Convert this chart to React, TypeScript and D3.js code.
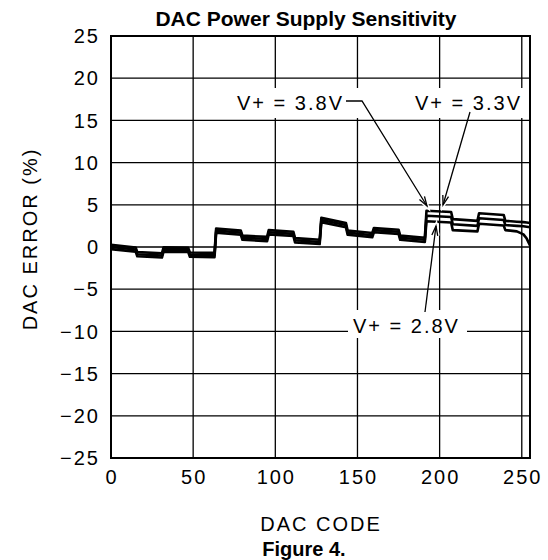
import React from 'react'
import * as d3 from 'd3'

// DAC code sample points (steps every 16 codes)
const codes = [0, 15, 16, 31, 32, 47, 48, 63, 64, 79, 80, 95, 96, 111, 112, 127, 128, 143, 144, 159, 160, 175, 176, 191, 192, 207, 208, 223, 224, 239, 240, 247, 251, 253, 255]

const err38 = [0.25, -0.05, -0.6, -0.75, -0.05, -0.1, -0.65, -0.7, 2.2, 1.95, 1.35, 1.2, 2.0, 1.8, 1.05, 0.85, 3.45, 2.85, 1.95, 1.65, 2.25, 2.05, 1.35, 1.1, 4.3, 4.15, 3.3, 3.1, 4.0, 3.8, 3.1, 3.0, 2.95, 2.9, 2.85]
const err33 = [0.0, -0.3, -0.85, -1.0, -0.3, -0.35, -0.9, -0.95, 1.95, 1.7, 1.1, 0.95, 1.75, 1.55, 0.8, 0.6, 3.2, 2.6, 1.7, 1.4, 2.0, 1.8, 1.1, 0.85, 3.7, 3.55, 2.7, 2.5, 3.4, 3.2, 2.6, 2.5, 2.45, 2.4, 2.35]
const err28 = [-0.25, -0.55, -1.1, -1.25, -0.55, -0.6, -1.15, -1.2, 1.7, 1.45, 0.85, 0.7, 1.5, 1.3, 0.55, 0.35, 2.95, 2.35, 1.45, 1.15, 1.75, 1.55, 0.85, 0.6, 3.05, 2.9, 2.0, 1.85, 2.75, 2.55, 2.0, 1.85, 1.5, 1.0, 0.2]

const xTicks = [0, 50, 100, 150, 200, 250]
const yTicks = [25, 20, 15, 10, 5, 0, -5, -10, -15, -20, -25]

const W = 548
const H = 560
const left = 111
const right = 530
const top = 36
const bottom = 458

const tickFont = { fontFamily: 'Liberation Sans, Arial, sans-serif', fontSize: 20, letterSpacing: 2 }

const arrowHead = (x1: number, y1: number, x2: number, y2: number) => {
  const a = Math.atan2(y2 - y1, x2 - x1)
  const len = 10
  const sp = 0.3
  const p1 = [x2 - len * Math.cos(a - sp), y2 - len * Math.sin(a - sp)]
  const p2 = [x2 - len * Math.cos(a + sp), y2 - len * Math.sin(a + sp)]
  return `M${p1[0]},${p1[1]}L${x2},${y2}L${p2[0]},${p2[1]}`
}

export default function App() {
  const x = d3.scaleLinear().domain([0, 255]).range([left, right])
  const y = d3.scaleLinear().domain([-25, 25]).range([bottom, top])

  const line = d3
    .line<number>()
    .x((_, i) => x(codes[i]))
    .y((d) => y(d))

  const series = [err38, err33, err28]

  // leader lines, last two points give the arrow direction
  const leaders = [
    { pts: [[346, 101], [362, 101], [427, 206]] },
    { pts: [[470, 112], [443, 205]] },
    { pts: [[425, 312], [436, 226]] },
  ]

  return (
    <svg width={W} height={H} style={{ position: 'absolute', left: 0, top: 0, background: '#fff' }}>
      <rect width={W} height={H} fill="#fff" />
      {/* grid */}
      {xTicks.filter((t) => t > 0).map((t) => (
        <line key={'gx' + t} x1={x(t)} x2={x(t)} y1={top} y2={bottom} stroke="#000" strokeWidth={1.3} />
      ))}
      {yTicks.filter((t) => t > -25 && t < 25).map((t) => (
        <line key={'gy' + t} x1={left} x2={right} y1={y(t)} y2={y(t)} stroke="#000" strokeWidth={1.3} />
      ))}

      {/* label boxes */}
      <rect x={226} y={88} width={146} height={30} fill="#fff" />
      <rect x={412} y={88} width={116} height={30} fill="#fff" />
      <rect x={348} y={310} width={119} height={28} fill="#fff" />

      {/* data */}
      {series.map((s, i) => (
        <path key={i} d={line(s) || ''} fill="none" stroke="#000" strokeWidth={2.6} strokeLinejoin="round" />
      ))}

      {/* frame */}
      <rect x={left} y={top} width={right - left} height={bottom - top} fill="none" stroke="#000" strokeWidth={2} />

      {/* annotations */}
      {leaders.map((l, i) => {
        const n = l.pts.length
        const [ax, ay] = l.pts[n - 2]
        const [bx, by] = l.pts[n - 1]
        return (
          <g key={'ld' + i}>
            <path d={arrowHead(ax, ay, bx, by)} fill="none" stroke="#fff" strokeWidth={4} />
            <path d={'M' + l.pts.map((p) => p.join(',')).join('L')} fill="none" stroke="#000" strokeWidth={1.3} />
            <path d={arrowHead(ax, ay, bx, by)} fill="none" stroke="#000" strokeWidth={1.3} />
          </g>
        )
      })}
      <text x={344} y={110} textAnchor="end" style={tickFont}>V+ = 3.8V</text>
      <text x={522} y={110} textAnchor="end" style={tickFont}>V+ = 3.3V</text>
      <text x={353} y={333} style={tickFont}>V+ = 2.8V</text>

      {/* y ticks */}
      {yTicks.map((t) => (
        <text key={'ty' + t} x={100} y={y(t)} dy="0.36em" textAnchor="end" style={tickFont}>
          {t < 0 ? '\u2212' + Math.abs(t) : t}
        </text>
      ))}
      {/* x ticks */}
      {xTicks.map((t) => (
        <text key={'tx' + t} x={x(t) + 1} y={484} textAnchor="middle" style={tickFont}>
          {t}
        </text>
      ))}

      <text x={321} y={531} textAnchor="middle" style={tickFont}>DAC CODE</text>
      <text transform="translate(37,239) rotate(-90)" textAnchor="middle" style={tickFont}>DAC ERROR (%)</text>

      <text x={306} y={26} textAnchor="middle" style={{ fontFamily: 'Liberation Sans, Arial, sans-serif', fontSize: 21, fontWeight: 'bold' }}>
        DAC Power Supply Sensitivity
      </text>
      <text x={304} y={556} textAnchor="middle" style={{ fontFamily: 'Liberation Sans, Arial, sans-serif', fontSize: 20, fontWeight: 'bold' }}>
        Figure 4.
      </text>
    </svg>
  )
}
